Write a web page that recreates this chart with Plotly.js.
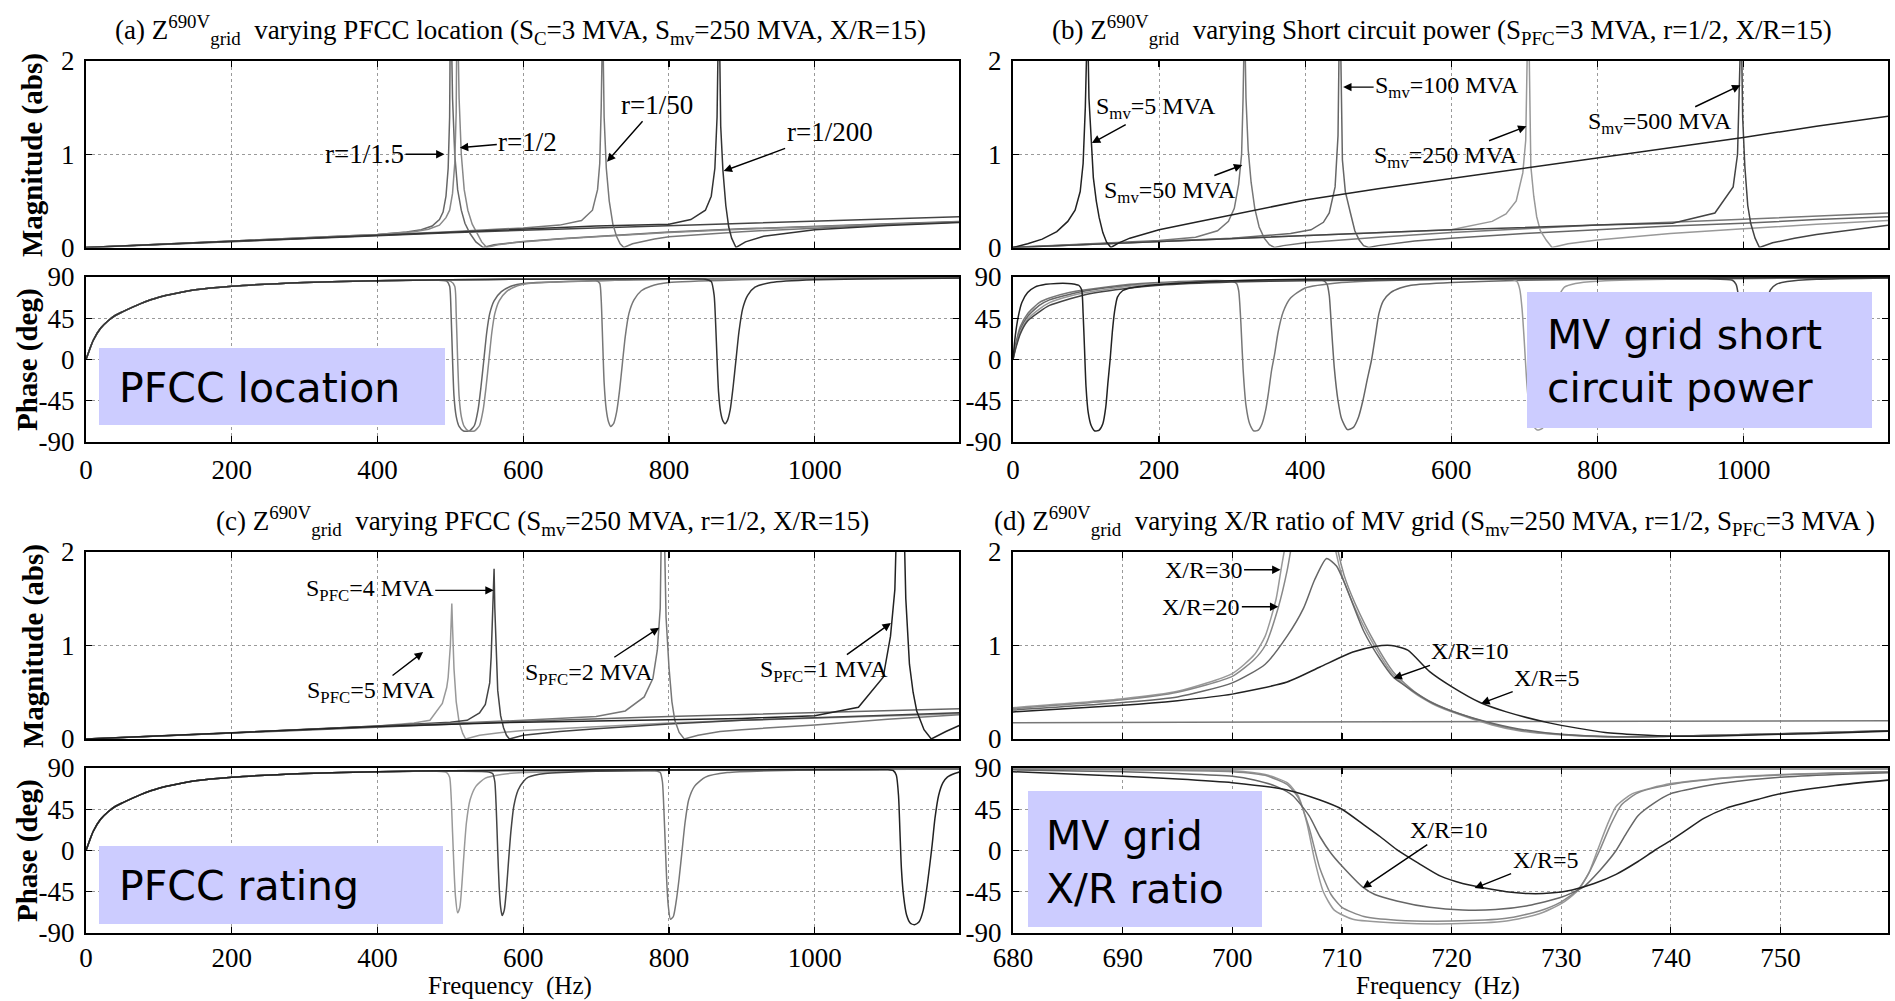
<!DOCTYPE html>
<html>
<head>
<meta charset="utf-8">
<script src="https://cdn.plot.ly/plotly-3.0.1.min.js"></script>
<style>html,body{margin:0;padding:0;background:#fff;}#chart{width:1895px;height:1001px;}</style>
</head>
<body>
<div id="chart"></div>
<script>
// ---------------- DATA (frequency Hz, value) ----------------
// shared low-frequency phase rise for panels (a) and (c)
const riseAC = [[0,0],[5,11],[10,21],[20,34],[30,42],[40,48],[50,52],[75,61],[100,68],[150,76],[200,80],[300,84],[400,86]];

// (a) varying PFCC location — magnitude
const magA_ref  = [[0,0],[100,0.032],[200,0.065],[300,0.098],[400,0.13],[500,0.158],[600,0.185],[700,0.21],[800,0.235],[900,0.26],[1000,0.285],[1100,0.308],[1200,0.33]];
const magA_r15  = [[0,0],[100,0.033],[200,0.066],[300,0.1],[400,0.14],[440,0.165],[460,0.19],[475,0.23],[485,0.3],[490,0.38],[494,0.55],[497,0.85],[499,1.4],[500,2.5],[501,2.5],[503,1.6],[506,1.0],[510,0.62],[515,0.4],[520,0.26],[527,0.15],[535,0.06],[545,0],[560,0.03],[580,0.05],[600,0.065],[650,0.095],[700,0.12],[800,0.165],[900,0.2],[1000,0.23],[1100,0.255],[1200,0.28]];
const magA_r2   = [[0,0],[100,0.033],[200,0.066],[300,0.1],[400,0.14],[450,0.168],[470,0.195],[485,0.24],[494,0.32],[499,0.4],[503,0.58],[506,0.9],[508,1.45],[509,2.5],[510,2.5],[512,1.6],[515,1.0],[519,0.62],[524,0.4],[530,0.25],[537,0.14],[543,0.06],[550,0],[565,0.03],[585,0.05],[600,0.06],[650,0.09],[700,0.115],[800,0.16],[900,0.195],[1000,0.225],[1100,0.25],[1200,0.275]];
const magA_r50  = [[0,0],[200,0.066],[400,0.135],[500,0.17],[600,0.21],[650,0.24],[680,0.29],[695,0.4],[702,0.62],[705,0.9],[707,1.5],[708,2.5],[709,2.5],[711,1.4],[714,0.85],[718,0.5],[723,0.25],[728,0.12],[733,0.04],[738,0],[750,0.04],[780,0.09],[800,0.115],[900,0.17],[1000,0.21],[1100,0.245],[1200,0.275]];
const magA_r200 = [[0,0],[200,0.066],[400,0.135],[600,0.2],[700,0.23],[800,0.25],[830,0.3],[850,0.4],[858,0.55],[863,0.85],[866,1.4],[868,2.5],[869,2.5],[871,1.3],[874,0.83],[878,0.45],[882,0.22],[886,0.1],[892,0],[905,0.06],[930,0.12],[1000,0.19],[1100,0.235],[1200,0.27]];
// (a) phase
const phA_ref  = [...riseAC,[500,87],[600,87.5],[800,88],[1000,88.5],[1200,89]];
const phA_r15  = [...riseAC,[480,86.5],[495,85.5],[499,80],[501,50],[503,0],[505,-40],[508,-62],[512,-73],[518,-78],[526,-78],[533,-72],[538,-55],[542,-30],[546,0],[550,30],[554,50],[560,64],[570,74],[585,80.5],[600,83],[700,86],[800,87.5],[1000,88.5],[1200,89]];
const phA_r2   = [...riseAC,[480,86.5],[500,85.5],[506,80],[508,50],[510,0],[512,-40],[515,-62],[519,-73],[525,-78],[533,-78],[540,-72],[545,-55],[549,-30],[553,0],[557,30],[561,50],[567,64],[577,74],[592,80.5],[607,83],[700,86],[800,87.5],[1000,88.5],[1200,89]];
const phA_r50  = [...riseAC,[500,87],[600,87.5],[680,87.5],[700,86.5],[705,83],[707,65],[709,20],[711,-25],[714,-55],[717,-68],[720,-73],[724,-70],[728,-58],[732,-35],[736,-5],[740,25],[745,50],[752,65],[762,75],[775,80],[800,84],[900,87],[1000,88.5],[1200,89]];
const phA_r200 = [...riseAC,[500,87],[600,87.5],[800,88],[850,87.5],[858,85],[862,70],[864,40],[866,0],[868,-35],[871,-58],[874,-67],[877,-70],[880,-67],[884,-55],[888,-30],[892,0],[896,30],[901,55],[908,70],[918,79],[940,84],[1000,87],[1200,89]];

// (b) varying short circuit power — magnitude
const magB_5   = [[0,0],[20,0.04],[40,0.09],[60,0.17],[75,0.28],[85,0.4],[92,0.6],[96,0.9],[99,1.5],[101,2.5],[102,2.5],[104,1.6],[107,1.1],[110,0.75],[114,0.5],[118,0.32],[123,0.16],[128,0.06],[134,0],[145,0.05],[160,0.1],[200,0.19],[250,0.27],[300,0.35],[400,0.51],[500,0.63],[600,0.74],[700,0.85],[800,0.96],[900,1.07],[1000,1.18],[1100,1.3],[1200,1.41]];
const magB_50  = [[0,0],[100,0.035],[200,0.075],[250,0.11],[280,0.18],[295,0.28],[303,0.42],[309,0.68],[313,1.0],[315,1.6],[316,2.5],[317,2.5],[319,1.6],[322,1.05],[326,0.7],[331,0.42],[337,0.22],[344,0.1],[351,0.03],[358,0],[370,0.02],[400,0.05],[500,0.11],[600,0.16],[700,0.2],[800,0.24],[900,0.27],[1000,0.305],[1100,0.335],[1200,0.37]];
const magB_100 = [[0,0],[100,0.033],[200,0.068],[300,0.1],[380,0.15],[408,0.19],[425,0.27],[433,0.37],[441,0.65],[445,1.2],[447,2.5],[448,2.5],[451,0.94],[455,0.6],[462,0.37],[468,0.18],[474,0.08],[480,0.02],[487,0],[500,0.02],[550,0.07],[600,0.1],[700,0.15],[800,0.19],[900,0.23],[1000,0.26],[1100,0.3],[1200,0.33]];
const magB_250 = [[0,0],[200,0.066],[400,0.13],[600,0.19],[656,0.28],[675,0.36],[689,0.5],[698,0.8],[702,1.15],[704,1.6],[705,2.5],[706,2.5],[709,0.87],[713,0.55],[717,0.33],[722,0.18],[730,0.08],[738,0],[760,0.04],[800,0.08],[900,0.15],[1000,0.2],[1100,0.25],[1200,0.29]];
const magB_500 = [[0,0],[200,0.066],[400,0.13],[600,0.19],[800,0.24],[903,0.26],[961,0.37],[986,0.65],[992,1.0],[995,1.6],[996,2.5],[997,2.5],[999,1.4],[1002,0.87],[1006,0.45],[1010,0.26],[1016,0.1],[1022,0],[1040,0.05],[1070,0.1],[1100,0.14],[1150,0.19],[1200,0.24]];
// (b) phase
const phB_5   = [[0,0],[3,25],[7,46],[12,62],[20,73],[30,79],[45,82],[60,83],[75,83],[85,82],[90,81],[94,76],[96,50],[98,10],[100,-30],[103,-58],[107,-72],[112,-78],[118,-77],[123,-70],[127,-52],[130,-25],[133,0],[136,30],[139,52],[143,68],[150,75],[160,78],[176,80],[220,83],[300,86],[400,87.5],[600,88.5],[800,89],[1000,89],[1200,89.5]];
const phB_50  = [[0,0],[4,18],[10,36],[20,50],[36,62],[50,67],[77,73],[100,76],[160,82],[200,84],[260,86],[290,86],[300,85],[306,83],[309,75],[312,40],[315,-10],[319,-50],[324,-70],[330,-78],[336,-77],[341,-70],[346,-55],[350,-35],[354,-12],[358,5],[363,30],[370,52],[380,67],[400,78],[450,84],[500,86],[600,87.5],[800,88.5],[1000,89],[1200,89.5]];
const phB_100 = [[0,0],[4,16],[10,33],[20,47],[36,59],[50,65],[77,71],[100,75],[160,81],[200,83.5],[300,86],[400,87],[425,86],[430,82],[433,70],[436,35],[440,-10],[445,-45],[450,-65],[458,-76.5],[466,-74],[473,-63],[479,-45],[485,-22],[491,0],[496,25],[501,50],[507,64],[517,73],[530,78],[545,81],[600,84],[700,86.5],[800,87.5],[1000,88.5],[1200,89]];
const phB_250 = [[0,0],[4,14],[10,30],[20,44],[36,55],[50,62],[77,69],[100,73],[160,80],[200,83],[300,85.5],[400,86.5],[600,87.5],[685,87],[690,85],[694,76],[697,55],[700,20],[703,-20],[707,-55],[712,-72],[718,-77],[725,-75],[730,-65],[735,-50],[739,-20],[742,15],[745,50],[748,70],[755,79],[770,83],[800,85.5],[900,87.5],[1000,88.5],[1200,89]];
const phB_500 = [[0,0],[4,13],[10,28],[20,42],[36,52],[50,59],[77,66],[100,71],[160,78],[200,81],[300,84.5],[400,86],[600,87.5],[800,88],[950,88],[985,86.5],[990,82],[993,70],[995,45],[997,10],[999,-25],[1002,-50],[1006,-66],[1011,-72],[1016,-70],[1020,-58],[1023,-38],[1026,-10],[1029,30],[1032,60],[1037,76],[1045,82],[1060,85],[1100,87.5],[1200,89]];

// (c) varying PFCC rating — magnitude
const magC_ref = [[0,0],[200,0.065],[400,0.13],[600,0.19],[800,0.24],[1000,0.285],[1200,0.325]];
const magC_5 = [[0,0],[200,0.065],[400,0.14],[450,0.17],[472,0.2],[489,0.38],[495,0.55],[497,0.66],[500,1.0],[502,1.45],[503,1.2],[505,0.75],[508,0.4],[512,0.18],[517,0.06],[521,0],[540,0.04],[570,0.07],[600,0.09],[700,0.13],[800,0.17],[900,0.2],[1000,0.225],[1100,0.25],[1200,0.27]];
const magC_4 = [[0,0],[200,0.065],[400,0.14],[500,0.18],[523,0.2],[540,0.28],[548,0.37],[554,0.6],[556,0.88],[558,1.3],[560,1.82],[561,1.4],[563,0.9],[565,0.52],[569,0.25],[573,0.12],[577,0.04],[581,0],[600,0.04],[650,0.08],[700,0.11],[800,0.16],[900,0.2],[1000,0.23],[1100,0.255],[1200,0.28]];
const magC_2 = [[0,0],[200,0.065],[400,0.135],[600,0.2],[700,0.24],[740,0.3],[766,0.45],[778,0.65],[784,0.95],[788,1.4],[790,2.5],[793,2.5],[796,1.3],[800,0.77],[804,0.4],[808,0.2],[814,0.07],[821,0],[840,0.04],[870,0.08],[900,0.1],[1000,0.15],[1100,0.21],[1200,0.26]];
const magC_1 = [[0,0],[200,0.065],[400,0.135],[600,0.18],[800,0.21],[900,0.22],[1000,0.25],[1060,0.34],[1094,0.66],[1104,1.1],[1110,1.6],[1113,2.5],[1122,2.5],[1125,1.5],[1130,0.8],[1135,0.5],[1140,0.3],[1150,0.1],[1160,0],[1180,0.08],[1200,0.15]];
// (c) phase
const phC_ref = [...riseAC,[500,87],[600,87.5],[800,88],[1000,88.5],[1200,89]];
const phC_5 = [...riseAC,[480,86.5],[495,85],[499,80],[501,60],[503,20],[505,-20],[507,-50],[510,-68],[513,-62],[516,-35],[519,0],[522,30],[527,55],[535,70],[548,79],[570,83],[600,85],[800,87.5],[1000,88.5],[1200,89]];
const phC_4 = [...riseAC,[500,86.5],[550,86],[558,84],[561,75],[563,45],[565,0],[567,-40],[569,-62],[571,-71],[574,-65],[577,-42],[580,-10],[583,20],[587,48],[593,66],[600,75],[607,80],[630,84],[700,86.5],[800,87.5],[1000,88.5],[1200,89]];
const phC_2 = [...riseAC,[500,87],[700,87.5],[780,87],[788,85],[791,75],[793,45],[795,5],[797,-35],[799,-60],[802,-75],[806,-72],[810,-55],[814,-30],[818,0],[822,30],[827,55],[835,70],[850,80],[880,85],[1000,88],[1200,89]];
const phC_1 = [...riseAC,[500,87],[800,88],[1000,88],[1100,88],[1108,87],[1112,82],[1115,60],[1117,20],[1119,-20],[1122,-50],[1126,-70],[1131,-79],[1137,-81],[1143,-78],[1149,-65],[1154,-40],[1158,-15],[1161,5],[1165,35],[1170,60],[1176,74],[1182,80],[1192,84],[1200,86]];

// (d) varying X/R ratio — magnitude
const magD_flat = [[680,0.175],[720,0.185],[760,0.195]];
const magD_5  = [[680,0.29],[690,0.36],[695,0.41],[700,0.48],[705,0.61],[708,0.77],[711,0.93],[713,0.99],[714.5,1.0],[716,0.95],[718,0.72],[720,0.56],[722.6,0.39],[725,0.29],[729,0.17],[734,0.07],[740,0.03],[745,0.035],[750,0.05],[755,0.065],[760,0.085]];
const magD_10 = [[680,0.31],[690,0.39],[695,0.45],[700,0.6],[703,0.8],[705,1.1],[706.5,1.4],[707.5,1.7],[708.6,1.93],[709.5,1.85],[710.3,1.65],[712,1.15],[713.5,0.85],[714.7,0.66],[716,0.55],[718,0.4],[720,0.3],[723,0.19],[726,0.11],[730,0.05],[735,0.025],[740,0.03],[750,0.055],[760,0.09]];
const magD_20 = [[680,0.325],[690,0.42],[695,0.5],[700,0.67],[702,0.85],[703,1.0],[704.2,1.41],[705,1.8],[705.6,2.2],[707,3],[708.5,3],[709.5,2.1],[710.2,1.75],[711.2,1.45],[712.9,1.05],[714.8,0.7],[716.7,0.5],[718.4,0.38],[720,0.3],[723.7,0.16],[726,0.1],[729.2,0.055],[735,0.022],[740,0.03],[750,0.055],[760,0.09]];
const magD_30 = [[680,0.335],[690,0.43],[695,0.51],[700,0.7],[702,0.9],[703,1.1],[704,1.5],[704.5,1.85],[705.2,2.3],[707,3.2],[708.5,3.2],[709.3,2.1],[710,1.75],[711,1.45],[712.7,1.05],[714.6,0.7],[716.5,0.5],[718.2,0.38],[720,0.29],[723.7,0.15],[726,0.09],[729.2,0.05],[735,0.02],[740,0.03],[750,0.055],[760,0.09]];
// (d) phase
const phD_flat = [[680,89],[760,89]];
const phD_5  = [[680,86],[690,81],[695,78],[700,74],[705,66],[708,55],[710,45],[712,28],[713.5,15],[715,1],[717,-14],[719,-28],[721,-36],[723,-41],[725,-45],[727,-47],[729,-46.5],[731,-43],[733,-36],[735,-26],[737,-12],[738.5,0],[740,11],[741.5,23],[743,35],[745,46],[748,56],[750,62],[755,71],[760,77]];
const phD_10 = [[680,88],[690,86],[695,84],[700,81],[702,77],[704,70],[705.5,60],[707,38],[708,15],[709,-3],[710,-17],[711.9,-40],[713,-48],[715,-55],[718,-62],[721,-65],[724,-64.5],[727,-60],[730,-51],[732,-40],[733.5,-22],[735,0],[736,20],[737,38],[738.5,52],[740,62],[743,70],[745,74],[750,80],[755,83],[760,85]];
const phD_20 = [[680,89],[690,88],[700,86],[703,82],[705,72],[706,58],[707,25],[708,-20],[709,-48],[710,-62],[712,-72],[715,-76],[720,-77],[725,-74],[728,-66],[730,-56],[731.5,-43],[732.5,-25],[733.5,0],[734.5,28],[735.5,50],[737,63],[740,72],[745,79],[750,82.5],[760,86]];
const phD_30 = [[680,89],[690,88.5],[700,87],[703,83],[705,74],[706,60],[706.8,30],[707.5,-10],[708.3,-45],[709.3,-65],[711,-75],[715,-79],[720,-80],[725,-77],[728,-69],[730,-58],[731.5,-44],[732.5,-25],[733.3,0],[734.2,28],[735,48],[736.5,62],[740,73],[745,79.5],[750,83],[760,86]];

// tick values and labels
const ticksFreqAC = [0,200,400,600,800,1000];
const ticksFreqD  = [680,690,700,710,720,730,740,750];
const ticksMag    = [0,1,2];
const ticksPhase  = [-90,-45,0,45,90];
const ticksPhaseText = ['-90','-45','0','45','90'];

// ---------------- BUILD ----------------
const W = 1895, H = 1001;
const px = v => v / W;
const py = v => 1 - v / H;

function tr(pairs, xa, ya, color, smooth) {
  return {
    type: 'scatter', mode: 'lines',
    x: pairs.map(p => p[0]), y: pairs.map(p => p[1]),
    xaxis: xa, yaxis: ya,
    line: smooth ? {color: color, width: 1.5, shape: 'spline', smoothing: 0.6} : {color: color, width: 1.5},
    hoverinfo: 'skip', showlegend: false
  };
}

const traces = [
  // (a) mag
  tr(magA_ref,'x','y','#444'), tr(magA_r15,'x','y','#666'), tr(magA_r2,'x','y','#888'),
  tr(magA_r50,'x','y','#777'), tr(magA_r200,'x','y','#333'),
  // (a) phase
  tr(phA_ref,'x2','y2','#444',1), tr(phA_r15,'x2','y2','#666',1), tr(phA_r2,'x2','y2','#888',1),
  tr(phA_r50,'x2','y2','#777',1), tr(phA_r200,'x2','y2','#333',1),
  // (b) mag
  tr(magB_50,'x3','y3','#777'), tr(magB_100,'x3','y3','#666'), tr(magB_250,'x3','y3','#999'),
  tr(magB_500,'x3','y3','#444'), tr(magB_5,'x3','y3','#222'),
  // (b) phase
  tr(phB_50,'x4','y4','#777',1), tr(phB_100,'x4','y4','#666',1), tr(phB_250,'x4','y4','#999',1),
  tr(phB_500,'x4','y4','#444',1), tr(phB_5,'x4','y4','#222',1),
  // (c) mag
  tr(magC_ref,'x5','y5','#666'), tr(magC_5,'x5','y5','#999'), tr(magC_4,'x5','y5','#444'),
  tr(magC_2,'x5','y5','#777'), tr(magC_1,'x5','y5','#222'),
  // (c) phase
  tr(phC_ref,'x6','y6','#666',1), tr(phC_5,'x6','y6','#999',1), tr(phC_4,'x6','y6','#444',1),
  tr(phC_2,'x6','y6','#777',1), tr(phC_1,'x6','y6','#222',1),
  // (d) mag
  tr(magD_flat,'x7','y7','#777'), tr(magD_30,'x7','y7','#999',1), tr(magD_20,'x7','y7','#888',1),
  tr(magD_10,'x7','y7','#666',1), tr(magD_5,'x7','y7','#222',1),
  // (d) phase
  tr(phD_flat,'x8','y8','#777'), tr(phD_30,'x8','y8','#999',1), tr(phD_20,'x8','y8','#888',1),
  tr(phD_10,'x8','y8','#666',1), tr(phD_5,'x8','y8','#222',1)
];

const SERIF = 'Liberation Serif';
function tickFont() { return {family: SERIF, size: 27, color: '#000'}; }
function ax(extra) {
  return Object.assign({
    showline: true, linecolor: '#000', linewidth: 2, mirror: 'allticks',
    ticks: 'inside', ticklen: 6, tickwidth: 1.2, tickcolor: '#000',
    showgrid: true, gridcolor: '#9a9a9a', griddash: 'dot', gridwidth: 1,
    zeroline: false, tickfont: tickFont(), fixedrange: true
  }, extra);
}
const xL = [px(86), px(959)], xR = [px(1013), px(1888)];
const yMag1 = [py(247.5), py(61)], yPh1 = [py(442), py(277)];
const yMag2 = [py(739), py(552)],  yPh2 = [py(933), py(768)];

function xAC(domain, anchor, labels, standoff) {
  return ax({domain: domain, anchor: anchor, range: [0, 1198], tickvals: ticksFreqAC,
             ticktext: ticksFreqAC.map(String), showticklabels: labels, ticklabelstandoff: standoff});
}
function xD(domain, anchor, labels, standoff) {
  return ax({domain: domain, anchor: anchor, range: [680, 759.8], tickvals: ticksFreqD,
             ticktext: ticksFreqD.map(String), showticklabels: labels, ticklabelstandoff: standoff});
}
function yMag(domain, anchor) { return ax({domain: domain, anchor: anchor, range: [0, 2], tickvals: ticksMag, ticktext: ticksMag.map(String), ticklabelstandoff: 4}); }
function yPh(domain, anchor)  { return ax({domain: domain, anchor: anchor, range: [-90, 90], tickvals: ticksPhase, ticktext: ticksPhaseText, ticklabelstandoff: 4}); }

const titleFont = {family: SERIF, size: 27, color: '#000'};
const lblFont = {family: SERIF, size: 24, color: '#000'};
const lblFontA = {family: SERIF, size: 27, color: '#000'};
const boxFont = {family: 'DejaVu Sans', size: 41, color: '#000'};
const axTitleFont = {family: SERIF, size: 29, color: '#000', weight: 'bold'};
const freqFont = {family: SERIF, size: 25, color: '#000'};

function arrow(text, xref, yref, x, y, axp, ayp, font) {
  return {text: text, xref: xref, yref: yref, x: x, y: y, ax: axp, ay: ayp,
          showarrow: true, arrowhead: 2, arrowsize: 1.2, arrowwidth: 1.4, arrowcolor: '#000',
          standoff: 0, startstandoff: 0, font: font || lblFont};
}
function ptext(text, x, y, font, extra) {
  return Object.assign({text: text, xref: 'paper', yref: 'paper', x: px(x), y: py(y),
          showarrow: false, font: font, xanchor: 'center', yanchor: 'middle'}, extra || {});
}

const annotations = [
  // panel titles
  ptext('(a) Z<sup>690V</sup><sub>grid</sub>  varying PFCC location (S<sub>C</sub>=3 MVA, S<sub>mv</sub>=250 MVA, X/R=15)', 520, 30, titleFont),
  ptext('(b) Z<sup>690V</sup><sub>grid</sub>  varying Short circuit power (S<sub>PFC</sub>=3 MVA, r=1/2, X/R=15)', 1442, 30, titleFont),
  ptext('(c) Z<sup>690V</sup><sub>grid</sub>  varying PFCC (S<sub>mv</sub>=250 MVA, r=1/2, X/R=15)', 542, 521, titleFont),
  ptext('(d) Z<sup>690V</sup><sub>grid</sub>  varying X/R ratio of MV grid (S<sub>mv</sub>=250 MVA, r=1/2, S<sub>PFC</sub>=3 MVA )', 1434, 521, titleFont),
  // axis titles
  ptext('Magnitude (abs)', 33, 155, axTitleFont, {textangle: -90}),
  ptext('Phase (deg)', 27, 360, axTitleFont, {textangle: -90}),
  ptext('Magnitude (abs)', 33, 646, axTitleFont, {textangle: -90}),
  ptext('Phase (deg)', 27, 851, axTitleFont, {textangle: -90}),
  ptext('Frequency  (Hz)', 510, 986, freqFont),
  ptext('Frequency  (Hz)', 1438, 986, freqFont),
  // boxed labels
  ptext('PFCC location', 117, 388, boxFont, {xanchor: 'left'}),
  ptext('MV grid short<br>circuit power', 1545, 362, boxFont, {xanchor: 'left', align: 'left'}),
  ptext('PFCC rating', 117, 886, boxFont, {xanchor: 'left'}),
  ptext('MV grid<br>X/R ratio', 1044, 862, boxFont, {xanchor: 'left', align: 'left'}),
  // (a)
  arrow('r=1/1.5', 'x', 'y', 492, 1.0, -80, 0, lblFontA),
  arrow('r=1/2', 'x', 'y', 513, 1.07, 68, -6, lblFontA),
  arrow('r=1/50', 'x', 'y', 715, 0.92, 50, -57, lblFontA),
  arrow('r=1/200', 'x', 'y', 875, 0.82, 106, -39, lblFontA),
  // (b)
  arrow('S<sub>mv</sub>=5 MVA', 'x3', 'y3', 108, 1.12, 64, -35),
  arrow('S<sub>mv</sub>=50 MVA', 'x3', 'y3', 314, 0.885, -72, 27),
  arrow('S<sub>mv</sub>=100 MVA', 'x3', 'y3', 452, 1.72, 104, 0),
  arrow('S<sub>mv</sub>=250 MVA', 'x3', 'y3', 703, 1.30, -80, 31),
  arrow('S<sub>mv</sub>=500 MVA', 'x3', 'y3', 996, 1.74, -80, 38),
  // (c)
  arrow('S<sub>PFC</sub>=4 MVA', 'x5', 'y5', 559.5, 1.59, -124, 0),
  arrow('S<sub>PFC</sub>=5 MVA', 'x5', 'y5', 462.6, 0.93, -52, 40),
  arrow('S<sub>PFC</sub>=2 MVA', 'x5', 'y5', 786.6, 1.19, -70, 46),
  arrow('S<sub>PFC</sub>=1 MVA', 'x5', 'y5', 1104.5, 1.24, -67, 48),
  // (d)
  arrow('X/R=30', 'x7', 'y7', 704.4, 1.81, -77, 0),
  arrow('X/R=20', 'x7', 'y7', 704.2, 1.415, -77, 0),
  arrow('X/R=10', 'x7', 'y7', 714.7, 0.65, 77, -27),
  arrow('X/R=5', 'x7', 'y7', 722.7, 0.38, 66, -25),
  arrow('X/R=10', 'x8', 'y8', 711.9, -41, 86, -58),
  arrow('X/R=5', 'x8', 'y8', 722.1, -41, 71, -28)
];

function box(x0, y0, x1, y1) {
  return {type: 'rect', xref: 'paper', yref: 'paper', x0: px(x0), x1: px(x1), y0: py(y1), y1: py(y0),
          fillcolor: '#ccccff', line: {width: 0}, layer: 'above'};
}
const shapes = [box(99, 348, 445, 425), box(1527, 292, 1872, 428), box(99, 846, 443, 924), box(1028, 791, 1262, 927)];

const layout = {
  width: W, height: H, margin: {l: 0, r: 0, t: 0, b: 0},
  paper_bgcolor: '#fff', plot_bgcolor: '#fff', showlegend: false,
  font: {family: SERIF, color: '#000'},
  xaxis:  xAC(xL, 'y', false, 3),  yaxis:  yMag(yMag1, 'x'),
  xaxis2: xAC(xL, 'y2', true, 3),  yaxis2: yPh(yPh1, 'x2'),
  xaxis3: xAC(xR, 'y3', false, 3), yaxis3: yMag(yMag1, 'x3'),
  xaxis4: xAC(xR, 'y4', true, 3),  yaxis4: yPh(yPh1, 'x4'),
  xaxis5: xAC(xL, 'y5', false, 0), yaxis5: yMag(yMag2, 'x5'),
  xaxis6: xAC(xL, 'y6', true, 0),  yaxis6: yPh(yPh2, 'x6'),
  xaxis7: xD(xR, 'y7', false, 0),  yaxis7: yMag(yMag2, 'x7'),
  xaxis8: xD(xR, 'y8', true, 0),   yaxis8: yPh(yPh2, 'x8'),
  annotations: annotations, shapes: shapes
};

Plotly.newPlot('chart', traces, layout, {displayModeBar: false, staticPlot: true});
</script>
</body>
</html>
